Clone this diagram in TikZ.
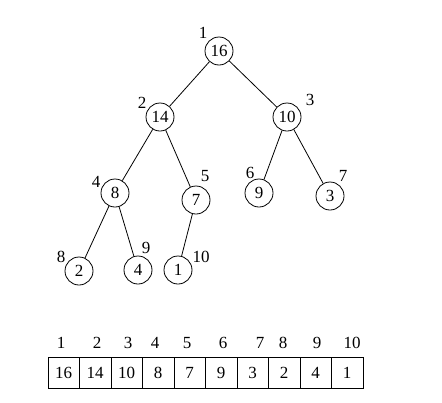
\documentclass[tikz,border=0pt]{standalone}
\usepackage{fontspec}
\setmainfont{Liberation Serif}
\begin{document}
\begin{tikzpicture}[x=1pt,y=-1pt,
  every node/.style={font=\fontsize{17}{19}\selectfont},
  heapnode/.style={circle,draw,line width=0.8pt,minimum size=28pt,inner sep=0pt},
  idx/.style={inner sep=0pt},
  cell/.style={draw,line width=0.8pt,minimum width=31.5pt,minimum height=31.5pt,inner sep=0pt,anchor=north west},
  edge/.style={line width=0.8pt}]
\useasboundingbox (0,0) rectangle (442,402);
% tree nodes
\node[heapnode] (n1) at (219,51) {16};
\node[heapnode] (n2) at (160,117) {14};
\node[heapnode] (n3) at (287,117) {10};
\node[heapnode] (n4) at (115,193) {8};
\node[heapnode] (n5) at (196,200) {7};
\node[heapnode] (n6) at (259,193) {9};
\node[heapnode] (n7) at (330,196) {3};
\node[heapnode] (n8) at (79,271) {2};
\node[heapnode] (n9) at (138,270) {4};
\node[heapnode] (n10) at (178,270) {1};
% edges
\draw[edge] (n1) -- (n2);
\draw[edge] (n1) -- (n3);
\draw[edge] (n2) -- (n4);
\draw[edge] (n2) -- (n5);
\draw[edge] (n3) -- (n6);
\draw[edge] (n3) -- (n7);
\draw[edge] (n4) -- (n8);
\draw[edge] (n4) -- (n9);
\draw[edge] (n5) -- (n10);
% index labels
\node[idx] (l1) at (203,33) {1};
\node[idx] (l2) at (142,103) {2};
\node[idx] (l3) at (310,100) {3};
\node[idx] (l4) at (96,182) {4};
\node[idx] (l5) at (205,176) {5};
\node[idx] (l6) at (250,173) {6};
\node[idx] (l7) at (343,176) {7};
\node[idx] (l8) at (61,257) {8};
\node[idx] (l9) at (146,248) {9};
\node[idx] (l10) at (201,257) {10};
% array
\node[cell] (c1) at (47.5,356.5) {16};
\node[cell] (c2) at (79,356.5) {14};
\node[cell] (c3) at (110.5,356.5) {10};
\node[cell] (c4) at (142,356.5) {8};
\node[cell] (c5) at (173.5,356.5) {7};
\node[cell] (c6) at (205,356.5) {9};
\node[cell] (c7) at (236.5,356.5) {3};
\node[cell] (c8) at (268,356.5) {2};
\node[cell] (c9) at (299.5,356.5) {4};
\node[cell] (c10) at (331,356.5) {1};
% array indices
\node[idx] (a1) at (61,343) {1};
\node[idx] (a2) at (97,343) {2};
\node[idx] (a3) at (128,343) {3};
\node[idx] (a4) at (155,343) {4};
\node[idx] (a5) at (187,343) {5};
\node[idx] (a6) at (223,343) {6};
\node[idx] (a7) at (260,343) {7};
\node[idx] (a8) at (283,343) {8};
\node[idx] (a9) at (317,343) {9};
\node[idx] (a10) at (352,343) {10};
\end{tikzpicture}
\end{document}
